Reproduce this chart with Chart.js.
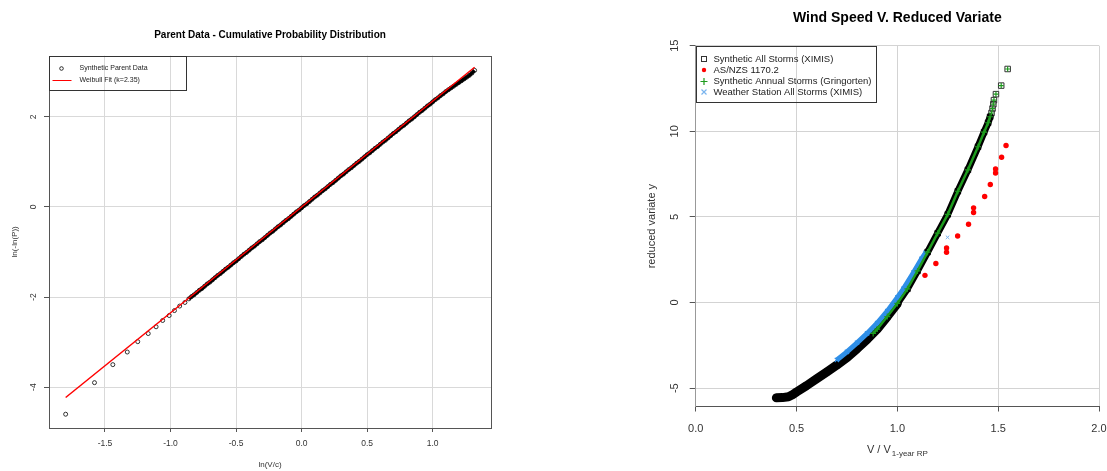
<!DOCTYPE html>
<html>
<head>
<meta charset="utf-8">
<title>Parent Data / Wind Speed V. Reduced Variate</title>
<script src="https://cdn.jsdelivr.net/npm/chart.js@4.4.1/dist/chart.umd.min.js"></script>
<style>
  html, body { margin: 0; padding: 0; background: #fff; }
  #wrap { position: relative; width: 1107px; height: 471px; overflow: hidden; }
  #leftBox { position: absolute; left: 0; top: 0; width: 540px; height: 471px; }
  #rightBox { position: absolute; left: 540px; top: 0; width: 567px; height: 471px; }
</style>
</head>
<body>
<div id="wrap">
  <div id="leftBox"><canvas id="parentChart" width="540" height="471"></canvas></div>
  <div id="rightBox"><canvas id="windChart" width="567" height="471"></canvas></div>
</div>
<script>
// ===== Data: left panel (ln(V/c) vs ln(-ln(P))) =====
const leftXTicks = [-1.5, -1.0, -0.5, 0, 0.5, 1.0];
const leftYTicks = [-4, -2, 0, 2];

// sparse low tail of the synthetic parent data
const parentTailX = [-1.80, -1.58, -1.44, -1.33, -1.25, -1.17, -1.11, -1.06, -1.01, -0.97, -0.93, -0.89];
const parentTailY = [-4.60, -3.90, -3.50, -3.22, -2.99, -2.81, -2.66, -2.52, -2.41, -2.30, -2.20, -2.12];

// dense body of the synthetic parent data
const parentBodyX = [
  -0.86, -0.84, -0.82, -0.80, -0.78, -0.76, -0.74, -0.72, -0.70, -0.68,
  -0.66, -0.64, -0.62, -0.60, -0.58, -0.56, -0.54, -0.52, -0.50, -0.48,
  -0.46, -0.44, -0.42, -0.40, -0.38, -0.36, -0.34, -0.32, -0.30, -0.28,
  -0.26, -0.24, -0.22, -0.20, -0.18, -0.16, -0.14, -0.12, -0.10, -0.08,
  -0.06, -0.04, -0.02, 0.00, 0.02, 0.04, 0.06, 0.08, 0.10, 0.12,
  0.14, 0.16, 0.18, 0.20, 0.22, 0.24, 0.26, 0.28, 0.30, 0.32,
  0.34, 0.36, 0.38, 0.40, 0.42, 0.44, 0.46, 0.48, 0.50, 0.52,
  0.54, 0.56, 0.58, 0.60, 0.62, 0.64, 0.66, 0.68, 0.70, 0.72,
  0.74, 0.76, 0.78, 0.80, 0.82, 0.84, 0.86, 0.88, 0.90, 0.92,
  0.94, 0.96, 0.98, 1.00, 1.02, 1.04, 1.06, 1.08, 1.10, 1.12,
  1.14, 1.16, 1.18, 1.20, 1.22, 1.24, 1.26, 1.28, 1.30, 1.32
];
const parentBodyY = [
  -2.04, -1.99, -1.95, -1.90, -1.85, -1.81, -1.76, -1.71, -1.67, -1.62,
  -1.57, -1.52, -1.48, -1.43, -1.38, -1.34, -1.29, -1.24, -1.20, -1.15,
  -1.10, -1.05, -1.01, -0.96, -0.91, -0.87, -0.82, -0.77, -0.73, -0.68,
  -0.63, -0.58, -0.54, -0.49, -0.44, -0.40, -0.35, -0.30, -0.26, -0.21,
  -0.16, -0.11, -0.07, -0.02, 0.03, 0.07, 0.12, 0.17, 0.22, 0.26,
  0.31, 0.36, 0.40, 0.45, 0.50, 0.54, 0.59, 0.64, 0.69, 0.73,
  0.78, 0.83, 0.87, 0.92, 0.97, 1.01, 1.06, 1.11, 1.16, 1.20,
  1.25, 1.30, 1.34, 1.39, 1.44, 1.48, 1.53, 1.58, 1.63, 1.67,
  1.72, 1.77, 1.81, 1.86, 1.91, 1.95, 2.00, 2.05, 2.10, 2.14,
  2.19, 2.24, 2.28, 2.33, 2.38, 2.42, 2.47, 2.51, 2.56, 2.60,
  2.64, 2.68, 2.72, 2.76, 2.80, 2.84, 2.88, 2.92, 2.97, 3.03
];

// Weibull fit line (k=2.35)
const weibullFitX = [-1.80, 1.32];
const weibullFitY = [-4.23, 3.10];

// ===== Data: right panel (V / V1 vs reduced variate) =====
const rightXTicks = [0, 0.5, 1.0, 1.5, 2.0];
const rightYTicks = [-5, 0, 5, 10, 15];

// Synthetic All Storms (XIMIS) - dense band, lower and upper part
const allStormsLowX = [0.40, 0.43, 0.46, 0.48, 0.50, 0.55, 0.60, 0.65, 0.70, 0.75, 0.80, 0.85, 0.90, 0.95, 1.00];
const allStormsLowY = [-5.56, -5.55, -5.50, -5.38, -5.22, -4.85, -4.45, -4.05, -3.65, -3.22, -2.70, -2.15, -1.55, -0.82, -0.05];
const allStormsHighX = [1.00, 1.05, 1.10, 1.15, 1.20, 1.25, 1.30, 1.35, 1.40, 1.43, 1.45, 1.46];
const allStormsHighY = [-0.05, 0.80, 1.85, 2.95, 4.05, 5.15, 6.50, 7.75, 9.10, 9.95, 10.50, 10.85];
// Synthetic All Storms (XIMIS) - separate top points
const allStormsTopX = [1.467, 1.472, 1.476, 1.479, 1.489, 1.515, 1.547];
const allStormsTopY = [11.07, 11.33, 11.58, 11.82, 12.17, 12.67, 13.64];

// AS/NZS 1170.2
const asnzsX = [1.137, 1.191, 1.244, 1.244, 1.299, 1.353, 1.378, 1.378, 1.433, 1.461, 1.487, 1.487, 1.517, 1.539];
const asnzsY = [1.59, 2.28, 2.94, 3.19, 3.89, 4.57, 5.26, 5.53, 6.19, 6.89, 7.57, 7.80, 8.49, 9.17];

// Synthetic Annual Storms (Gringorten) - band part and separate top points
const annualX = [0.88, 0.90, 0.95, 1.00, 1.05, 1.10, 1.15, 1.20, 1.25, 1.30, 1.35, 1.40, 1.43, 1.45, 1.46];
const annualY = [-1.80, -1.55, -0.82, -0.05, 0.80, 1.85, 2.95, 4.05, 5.15, 6.50, 7.75, 9.10, 9.95, 10.50, 10.85];
const annualTopX = [1.467, 1.472, 1.476, 1.479, 1.489, 1.515, 1.547];
const annualTopY = [11.07, 11.33, 11.58, 11.82, 12.17, 12.67, 13.64];

// Weather Station All Storms (XIMIS)
const stationX = [0.70, 0.75, 0.80, 0.85, 0.90, 0.95, 1.00, 1.03, 1.08, 1.12, 1.14];
const stationY = [-3.35, -2.88, -2.35, -1.80, -1.20, -0.50, 0.30, 0.80, 1.75, 2.55, 2.90];
const stationLoneX = [1.249];
const stationLoneY = [3.81];

// ===== Helpers =====
const FONT = "'Liberation Sans', Arial, sans-serif";

function zip(xs, ys) {
  return xs.map((x, i) => ({ x, y: ys[i] }));
}

function fixedTicks(values) {
  return (scale) => {
    scale.ticks = values.map((v) => ({ value: v }));
  };
}

// ===== Left chart =====
const leftDecor = {
  id: 'leftDecor',
  afterDraw(chart) {
    const { ctx, chartArea: a } = chart;
    ctx.save();
    // plot box
    ctx.strokeStyle = '#555';
    ctx.lineWidth = 1;
    ctx.strokeRect(Math.round(a.left) + 0.5, Math.round(a.top) + 0.5,
      Math.round(a.right - a.left), Math.round(a.bottom - a.top));
    // title
    ctx.fillStyle = '#000';
    ctx.font = 'bold 10px ' + FONT;
    ctx.textAlign = 'center';
    ctx.textBaseline = 'middle';
    ctx.fillText('Parent Data - Cumulative Probability Distribution', (a.left + a.right) / 2, 35);
    // legend
    const lx = Math.round(a.left) + 0.5;
    const ly = Math.round(a.top) + 0.5;
    ctx.strokeStyle = '#333';
    ctx.strokeRect(lx, ly, 137, 34);
    ctx.beginPath();
    ctx.arc(lx + 12, ly + 12, 1.8, 0, Math.PI * 2);
    ctx.strokeStyle = '#000';
    ctx.lineWidth = 0.8;
    ctx.stroke();
    ctx.beginPath();
    ctx.moveTo(lx + 3, ly + 24);
    ctx.lineTo(lx + 22, ly + 24);
    ctx.strokeStyle = '#ff0000';
    ctx.lineWidth = 1;
    ctx.stroke();
    ctx.fillStyle = '#222';
    ctx.font = '7px ' + FONT;
    ctx.textAlign = 'left';
    ctx.fillText('Synthetic Parent Data', lx + 30, ly + 12);
    ctx.fillText('Weibull Fit (k=2.35)', lx + 30, ly + 24);
    ctx.restore();
  }
};

new Chart(document.getElementById('parentChart'), {
  type: 'scatter',
  data: {
    datasets: [
      {
        label: 'Weibull Fit (k=2.35)',
        data: zip(weibullFitX, weibullFitY),
        showLine: true,
        borderColor: '#ff0000',
        borderWidth: 1.5,
        pointRadius: 0,
        order: 0
      },
      {
        label: 'Synthetic Parent Data',
        data: zip(parentBodyX, parentBodyY),
        showLine: true,
        borderColor: '#000',
        borderWidth: 3.5,
        pointStyle: 'circle',
        pointRadius: 2,
        pointBorderWidth: 0.8,
        pointBorderColor: '#000',
        pointBackgroundColor: 'rgba(0,0,0,0)',
        order: 1
      },
      {
        label: 'Synthetic Parent Data (tail)',
        data: zip(parentTailX, parentTailY),
        showLine: false,
        pointStyle: 'circle',
        pointRadius: 2,
        pointBorderWidth: 0.8,
        pointBorderColor: '#000',
        pointBackgroundColor: 'rgba(0,0,0,0)',
        order: 2
      }
    ]
  },
  options: {
    responsive: false,
    animation: false,
    layout: { padding: { left: 9.6, top: 55.7, right: 49, bottom: 0 } },
    plugins: { legend: { display: false }, tooltip: { enabled: false } },
    scales: {
      x: {
        type: 'linear',
        min: -1.927,
        max: 1.445,
        afterBuildTicks: fixedTicks(leftXTicks),
        afterFit: (scale) => { scale.height = 43; },
        grid: { color: '#d9d9d9', tickColor: '#555', tickLength: 4 },
        border: { display: false },
        ticks: {
          font: { family: FONT, size: 8.5 },
          color: '#333',
          padding: 7,
          maxRotation: 0,
          callback: (v) => v.toFixed(1)
        },
        title: {
          display: true,
          text: 'ln(V/c)',
          font: { family: FONT, size: 8 },
          color: '#333',
          padding: { top: 0, bottom: 1 }
        }
      },
      y: {
        type: 'linear',
        min: -4.906,
        max: 3.356,
        afterBuildTicks: fixedTicks(leftYTicks),
        afterFit: (scale) => { scale.width = 39.4; },
        grid: { color: '#d9d9d9', tickColor: '#555', tickLength: 5 },
        border: { display: false },
        ticks: {
          font: { family: FONT, size: 8.5 },
          color: '#333',
          padding: 7,
          minRotation: 90,
          maxRotation: 90,
          crossAlign: 'center',
          callback: (v) => String(v)
        },
        title: {
          display: true,
          text: 'ln(-ln(P))',
          font: { family: FONT, size: 8 },
          color: '#333',
          padding: { top: 0, bottom: 0 }
        }
      }
    }
  },
  plugins: [leftDecor]
});

// ===== Right chart =====
const rightDecor = {
  id: 'rightDecor',
  afterDraw(chart) {
    const { ctx, chartArea: a } = chart;
    const cx = (a.left + a.right) / 2;
    ctx.save();
    // title
    ctx.fillStyle = '#000';
    ctx.font = 'bold 14px ' + FONT;
    ctx.textAlign = 'center';
    ctx.textBaseline = 'middle';
    ctx.fillText('Wind Speed V. Reduced Variate', cx, 18);
    // x axis title with subscript
    ctx.font = '11px ' + FONT;
    const main = 'V / V';
    const mainW = ctx.measureText(main).width;
    ctx.font = '8px ' + FONT;
    const sub = '1-year RP';
    const subW = ctx.measureText(sub).width;
    const startX = cx - (mainW + subW + 1) / 2;
    ctx.textAlign = 'left';
    ctx.fillStyle = '#333';
    ctx.font = '11px ' + FONT;
    ctx.fillText(main, startX, 450);
    ctx.font = '8px ' + FONT;
    ctx.fillText(sub, startX + mainW + 1, 454);
    // legend
    const lx = Math.round(a.left) + 0.5;
    const ly = Math.round(a.top) + 0.5;
    ctx.strokeStyle = '#333';
    ctx.lineWidth = 1;
    ctx.strokeRect(lx, ly, 180, 56);
    const sx = lx + 7.5;
    const rows = [ly + 12.5, ly + 23.5, ly + 35, ly + 45.5];
    // open square
    ctx.strokeStyle = '#333';
    ctx.strokeRect(sx - 2.5, rows[0] - 2.5, 5, 5);
    // red dot
    ctx.fillStyle = '#ff0000';
    ctx.beginPath();
    ctx.arc(sx, rows[1], 2.2, 0, Math.PI * 2);
    ctx.fill();
    // green plus
    ctx.strokeStyle = '#1e9b1e';
    ctx.lineWidth = 1.2;
    ctx.beginPath();
    ctx.moveTo(sx - 3.5, rows[2]); ctx.lineTo(sx + 3.5, rows[2]);
    ctx.moveTo(sx, rows[2] - 3.5); ctx.lineTo(sx, rows[2] + 3.5);
    ctx.stroke();
    // blue x
    ctx.strokeStyle = '#79b4ee';
    ctx.beginPath();
    ctx.moveTo(sx - 2.5, rows[3] - 2.5); ctx.lineTo(sx + 2.5, rows[3] + 2.5);
    ctx.moveTo(sx - 2.5, rows[3] + 2.5); ctx.lineTo(sx + 2.5, rows[3] - 2.5);
    ctx.stroke();
    ctx.fillStyle = '#222';
    ctx.font = '9.5px ' + FONT;
    ctx.textAlign = 'left';
    ctx.textBaseline = 'middle';
    const labels = [
      'Synthetic All Storms (XIMIS)',
      'AS/NZS 1170.2',
      'Synthetic Annual Storms (Gringorten)',
      'Weather Station All Storms (XIMIS)'
    ];
    labels.forEach((t, i) => ctx.fillText(t, lx + 17, rows[i]));
    ctx.restore();
  }
};

const squareStyle = {
  pointStyle: 'rect',
  pointRadius: 3.9,
  pointBorderWidth: 1,
  pointBorderColor: '#000',
  pointBackgroundColor: 'rgba(0,0,0,0)'
};

new Chart(document.getElementById('windChart'), {
  type: 'scatter',
  data: {
    datasets: [
      {
        label: 'AS/NZS 1170.2',
        data: zip(asnzsX, asnzsY),
        pointStyle: 'circle',
        pointRadius: 2.7,
        pointBorderWidth: 0,
        pointBackgroundColor: '#ff0000',
        order: 0
      },
      {
        label: 'Synthetic Annual Storms (Gringorten)',
        data: zip(annualX, annualY),
        showLine: true,
        borderColor: '#1e9b1e',
        borderWidth: 2.5,
        pointStyle: 'cross',
        pointRadius: 3,
        pointBorderWidth: 1.2,
        pointBorderColor: '#1e9b1e',
        order: 1
      },
      {
        label: 'Synthetic Annual Storms (Gringorten) top',
        data: zip(annualTopX, annualTopY),
        pointStyle: 'cross',
        pointRadius: 2.6,
        pointBorderWidth: 1.2,
        pointBorderColor: '#1e9b1e',
        order: 1
      },
      {
        label: 'Weather Station All Storms (XIMIS)',
        data: zip(stationX, stationY),
        showLine: true,
        borderColor: '#2f8fe8',
        borderWidth: 5,
        pointStyle: 'crossRot',
        pointRadius: 3,
        pointBorderWidth: 1.2,
        pointBorderColor: '#2f8fe8',
        order: 2
      },
      {
        label: 'Weather Station All Storms (XIMIS) outlier',
        data: zip(stationLoneX, stationLoneY),
        pointStyle: 'crossRot',
        pointRadius: 2.5,
        pointBorderWidth: 1,
        pointBorderColor: '#79b4ee',
        order: 2
      },
      Object.assign({
        label: 'Synthetic All Storms (XIMIS)',
        data: zip(allStormsLowX, allStormsLowY),
        showLine: true,
        borderColor: '#000',
        borderWidth: 9,
        borderCapStyle: 'round',
        borderJoinStyle: 'round',
        order: 3
      }, squareStyle),
      Object.assign({
        label: 'Synthetic All Storms (XIMIS) upper',
        data: zip(allStormsHighX, allStormsHighY),
        showLine: true,
        borderColor: '#000',
        borderWidth: 7,
        borderCapStyle: 'round',
        borderJoinStyle: 'round',
        order: 3
      }, squareStyle),
      Object.assign({
        label: 'Synthetic All Storms (XIMIS) top',
        data: zip(allStormsTopX, allStormsTopY),
        order: 3
      }, squareStyle, { pointBorderColor: '#333' })
    ]
  },
  options: {
    responsive: false,
    animation: false,
    layout: { padding: { left: 105.8, top: 45.7, right: 8, bottom: 14 } },
    plugins: { legend: { display: false }, tooltip: { enabled: false } },
    scales: {
      x: {
        type: 'linear',
        min: 0,
        max: 2,
        afterBuildTicks: fixedTicks(rightXTicks),
        afterFit: (scale) => {
          scale.height = 50.5;
          // keep the end labels from shrinking the plot area
          scale.paddingLeft = 0;
          scale.paddingRight = 0;
        },
        grid: { color: '#d3d3d3', tickColor: '#555', tickLength: 5 },
        border: { display: true, color: '#555' },
        ticks: {
          font: { family: FONT, size: 11 },
          color: '#333',
          padding: 10.5,
          maxRotation: 0,
          callback: (v) => v.toFixed(1)
        }
      },
      y: {
        type: 'linear',
        min: -6.07,
        max: 15,
        afterBuildTicks: fixedTicks(rightYTicks),
        afterFit: (scale) => {
          scale.width = 49.9;
          scale.paddingTop = 0;
          scale.paddingBottom = 0;
        },
        grid: { color: '#d3d3d3', tickColor: '#555', tickLength: 6 },
        border: { display: true, color: '#999' },
        ticks: {
          font: { family: FONT, size: 11 },
          color: '#333',
          padding: 9,
          minRotation: 90,
          maxRotation: 90,
          crossAlign: 'center',
          callback: (v) => String(v)
        },
        title: {
          display: true,
          text: 'reduced variate y',
          font: { family: FONT, size: 11 },
          color: '#333',
          padding: { top: 0, bottom: 0 }
        }
      }
    }
  },
  plugins: [rightDecor]
});
</script>
</body>
</html>
